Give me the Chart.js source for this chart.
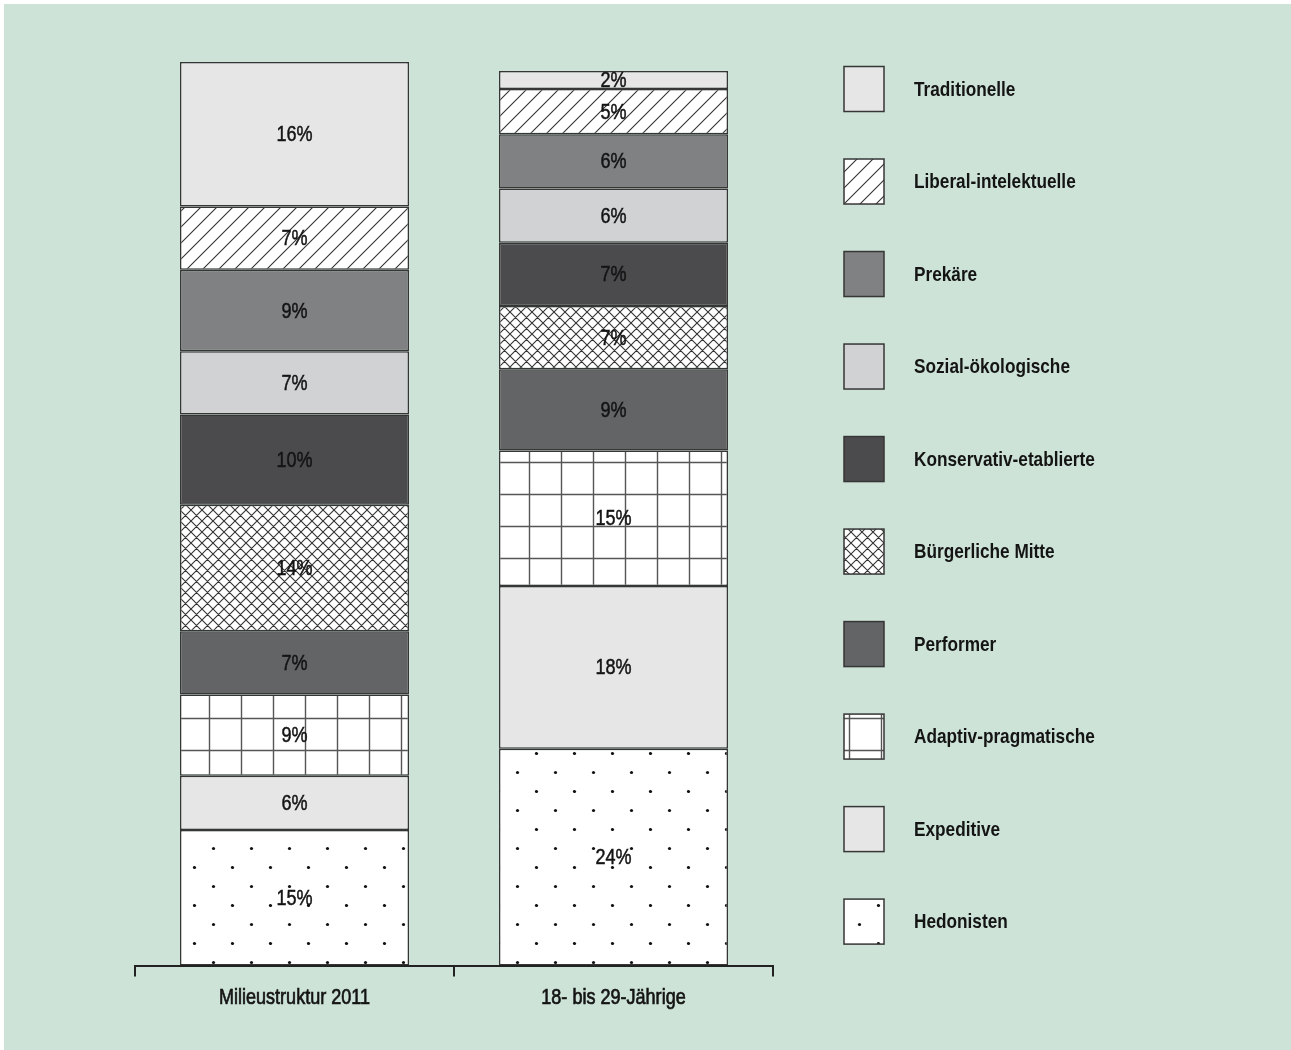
<!DOCTYPE html>
<html>
<head>
<meta charset="utf-8">
<script src="https://cdn.jsdelivr.net/npm/chart.js@4"></script>
<style>
  html, body { margin: 0; padding: 0; background: #ffffff; }
  #wrap { position: absolute; left: 4px; top: 4px; width: 1287px; height: 1046px; background: #cde3d7; }
  canvas { display: block; }
</style>
</head>
<body>
<div id="wrap"><canvas id="c" width="1287" height="1046"></canvas></div>
<script>
// ---- data (bottom of stack first) ----
const categories = ['Milieustruktur 2011', '18- bis 29-Jährige'];
const milieus = ['Hedonisten', 'Expeditive', 'Adaptiv-pragmatische', 'Performer', 'Bürgerliche Mitte',
                 'Konservativ-etablierte', 'Sozial-ökologische', 'Prekäre', 'Liberal-intelektuelle', 'Traditionelle'];
const valuesMilieu2011 = [15, 6, 9, 7, 14, 10, 7, 9, 7, 16];
const valuesJung = [24, 18, 15, 9, 7, 7, 6, 6, 5, 2];

// ---- styles ----
const FONT = '"Liberation Sans", Arial, sans-serif';
const NARROW = 0.82;
const EDGE = '#363636';
const TEXT = '#141414';

function narrowText(ctx, text, x, y, align, thicken) {
  ctx.save();
  ctx.translate(x, y);
  ctx.scale(NARROW, 1);
  ctx.textAlign = align;
  ctx.fillText(text, 0, 0);
  if (thicken) {
    ctx.strokeStyle = ctx.fillStyle;
    ctx.lineWidth = thicken;
    ctx.strokeText(text, 0, 0);
  }
  ctx.restore();
}

function tile(w, h, draw) {
  const c = document.createElement('canvas');
  c.width = w; c.height = h;
  const g = c.getContext('2d');
  g.fillStyle = '#ffffff';
  g.fillRect(0, 0, w, h);
  draw(g, w, h);
  return document.createElement('canvas').getContext('2d').createPattern(c, 'repeat');
}
const hatch = tile(16, 16, (g, s) => {
  g.strokeStyle = '#333'; g.lineWidth = 1.1;
  g.beginPath();
  g.moveTo(0, s); g.lineTo(s, 0);
  g.moveTo(-2, 2); g.lineTo(2, -2);
  g.moveTo(s - 2, s + 2); g.lineTo(s + 2, s - 2);
  g.stroke();
});
const cross = tile(11, 11, (g, s) => {
  g.strokeStyle = '#333'; g.lineWidth = 1.1;
  g.beginPath();
  g.moveTo(0, s); g.lineTo(s, 0);
  g.moveTo(-2, 2); g.lineTo(2, -2);
  g.moveTo(s - 2, s + 2); g.lineTo(s + 2, s - 2);
  g.moveTo(0, 0); g.lineTo(s, s);
  g.moveTo(-2, s - 2); g.lineTo(2, s + 2);
  g.moveTo(s - 2, -2); g.lineTo(s + 2, 2);
  g.stroke();
});
const grid = tile(32, 32, (g, s) => {
  g.strokeStyle = '#555'; g.lineWidth = 1.4;
  g.beginPath();
  g.moveTo(13.5, 0); g.lineTo(13.5, s);
  g.moveTo(0, 10.5); g.lineTo(s, 10.5);
  g.stroke();
});
const dots = tile(38, 38, (g, s) => {
  g.fillStyle = '#111';
  const pts = [[19.5, 8.5], [0.5, 27.5], [38.5, 27.5]];
  pts.forEach(([x, y]) => { g.beginPath(); g.arc(x, y, 1.6, 0, Math.PI * 2); g.fill(); });
});

const fills = [dots, '#e6e6e7', grid, '#636466', cross, '#4b4b4d', '#d1d2d4', '#808183', hatch, '#e6e6e7'];

const datasets = milieus.map((name, i) => ({
  label: name,
  data: [valuesMilieu2011[i], valuesJung[i]],
  backgroundColor: fills[i],
  borderColor: EDGE,
  borderWidth: 1.5,
  borderSkipped: false,
  categoryPercentage: 0.718,
  barPercentage: 1.0
}));

// value labels inside segments + category labels under the axis
const valueLabels = {
  id: 'valueLabels',
  afterDatasetsDraw(chart) {
    const ctx = chart.ctx;
    ctx.save();
    ctx.font = '22px ' + FONT;
    ctx.fillStyle = TEXT;
    ctx.textBaseline = 'middle';
    chart.data.datasets.forEach((ds, i) => {
      chart.getDatasetMeta(i).data.forEach((el, j) => {
        narrowText(ctx, ds.data[j] + '%', el.x, (el.y + el.base) / 2 + 1, 'center', 0.5);
      });
    });
    const xs = chart.scales.x;
    chart.data.labels.forEach((lab, i) => {
      narrowText(ctx, lab, xs.getPixelForTick(i), chart.chartArea.bottom + 32, 'center', 0.7);
    });
    ctx.restore();
  }
};

// legend drawn at the right, top entry = top of stack
const sideLegend = {
  id: 'sideLegend',
  afterDraw(chart) {
    const ctx = chart.ctx;
    const a = chart.chartArea;
    const n = chart.data.datasets.length;
    const first = a.top + 27;
    const last = a.bottom - 44;
    const step = (last - first) / (n - 1);
    const bx = a.right + 71;
    ctx.save();
    ctx.font = 'bold 21px ' + FONT;
    ctx.textBaseline = 'middle';
    for (let k = 0; k < n; k++) {
      const ds = chart.data.datasets[n - 1 - k];
      const cy = first + k * step;
      ctx.fillStyle = ds.backgroundColor;
      ctx.fillRect(bx, cy - 22.5, 40, 45);
      ctx.strokeStyle = EDGE;
      ctx.lineWidth = 1.5;
      ctx.strokeRect(bx, cy - 22.5, 40, 45);
      ctx.fillStyle = TEXT;
      narrowText(ctx, ds.label, bx + 70, cy + 1, 'left', 0);
    }
    ctx.restore();
  }
};

new Chart(document.getElementById('c'), {
  type: 'bar',
  data: { labels: categories, datasets },
  options: {
    responsive: false,
    animation: false,
    devicePixelRatio: 1,
    layout: { padding: { left: 131, top: 58, right: 518, bottom: 27 } },
    plugins: { legend: { display: false }, tooltip: { enabled: false } },
    scales: {
      x: {
        stacked: true,
        grid: { display: true, drawOnChartArea: false, drawTicks: true, tickLength: 11, offset: true, color: '#222', lineWidth: 2 },
        border: { display: true, color: '#222', width: 2 },
        ticks: { padding: 10, color: 'rgba(0,0,0,0)', font: { family: FONT, size: 22 } }
      },
      y: {
        stacked: true,
        display: false,
        min: 0,
        max: 100
      }
    }
  },
  plugins: [valueLabels, sideLegend]
});
</script>
</body>
</html>
